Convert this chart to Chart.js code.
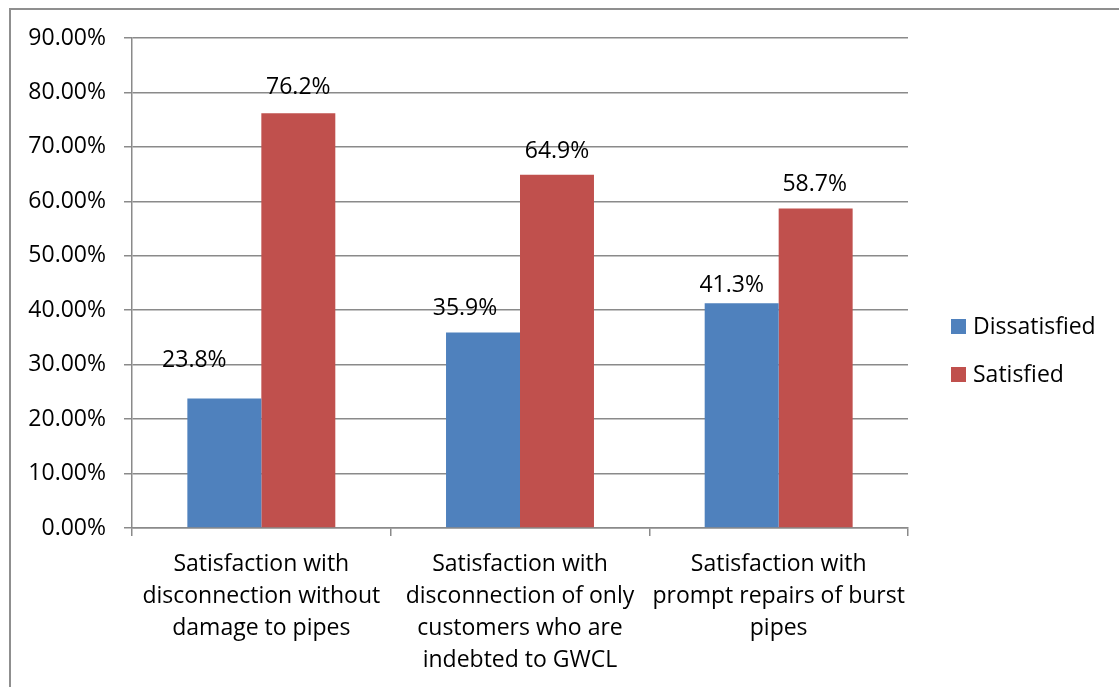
<!DOCTYPE html>
<html>
<head>
<meta charset="utf-8">
<script src="https://cdn.jsdelivr.net/npm/chart.js@4/dist/chart.umd.min.js"></script>
<style>
  html, body { margin: 0; padding: 0; background: #fff; overflow: hidden; }
  #wrap { position: relative; width: 1119px; height: 687px; }
  #chart { position: absolute; left: 0; top: 0; }
  #frame {
    position: absolute; left: 9px; top: 8px; width: 1200px; height: 800px;
    border-left: 2px solid #8f8f8f; border-top: 2px solid #8f8f8f;
    pointer-events: none;
  }
</style>
</head>
<body>
<div id="wrap">
  <canvas id="chart" width="1119" height="687"></canvas>
  <div id="frame"></div>
</div>
<script>
// 설문 항목 (x축 카테고리)
const categories = [
  ["Satisfaction with", "disconnection without", "damage to pipes"],
  ["Satisfaction with", "disconnection of only", "customers who are", "indebted to GWCL"],
  ["Satisfaction with", "prompt repairs of burst", "pipes"],
];
const seriesNames = ["Dissatisfied", "Satisfied"];
const dissatisfied = [23.8, 35.9, 41.3];
const satisfied = [76.2, 64.9, 58.7];
const yTicks = [0, 10, 20, 30, 40, 50, 60, 70, 80, 90];

const colors = ["#4f81bd", "#c0504d"];
const FONT = "'Open Sans', sans-serif";
const GRID = "#8a8a8a";

// 값 라벨 위치 미세조정 [dx, 막대 끝에서 baseline 까지 dy]
const labelNudge = [
  [[-30, -31], [-18, -18], [-10, -11]],
  [[0, -19], [0, -17], [-1, -17]],
];

const valueLabels = {
  id: "valueLabels",
  afterDatasetsDraw(chart) {
    const ctx = chart.ctx;
    ctx.save();
    ctx.font = "23px " + FONT;
    ctx.fillStyle = "#000";
    ctx.textAlign = "center";
    ctx.textBaseline = "alphabetic";
    chart.data.datasets.forEach((ds, di) => {
      chart.getDatasetMeta(di).data.forEach((bar, i) => {
        const [dx, dy] = labelNudge[di][i];
        ctx.fillText(ds.data[i].toFixed(1) + "%", bar.x + dx, bar.y + dy);
      });
    });
    ctx.restore();
  },
};

// 오른쪽 범례 (네모 + 이름)
const sideLegend = {
  id: "sideLegend",
  afterDraw(chart) {
    const ctx = chart.ctx;
    const x = chart.chartArea.right + 43;
    ctx.save();
    ctx.font = "23px " + FONT;
    ctx.textBaseline = "alphabetic";
    ctx.textAlign = "left";
    chart.data.datasets.forEach((ds, i) => {
      const top = 319 + i * 48;
      ctx.fillStyle = ds.backgroundColor;
      ctx.fillRect(x, top, 15, 15);
      ctx.fillStyle = "#000";
      ctx.fillText(ds.label, x + 22, top + 15);
    });
    ctx.restore();
  },
};

new Chart(document.getElementById("chart"), {
  type: "bar",
  data: {
    labels: categories,
    datasets: [
      { label: seriesNames[0], data: dissatisfied, backgroundColor: colors[0] },
      { label: seriesNames[1], data: satisfied, backgroundColor: colors[1] },
    ],
  },
  options: {
    responsive: false,
    animation: false,
    devicePixelRatio: 1,
    layout: { padding: { top: 38, right: 211, left: 0, bottom: 0 } },
    datasets: { bar: { barPercentage: 1, categoryPercentage: 0.572 } },
    plugins: {
      legend: { display: false },
      tooltip: { enabled: false },
    },
    scales: {
      x: {
        offset: true,
        grid: {
          offset: true,
          drawOnChartArea: false,
          drawTicks: true,
          tickLength: 8,
          color: GRID,
          lineWidth: 1.5,
        },
        border: { color: GRID, width: 1.5 },
        ticks: {
          color: "#000",
          font: { family: FONT, size: 23, lineHeight: 1.4 },
          padding: 12,
          maxRotation: 0,
          autoSkip: false,
        },
        afterFit(scale) {
          scale.height = 159;
        },
      },
      y: {
        min: 0,
        max: 90,
        afterBuildTicks(scale) {
          scale.ticks = yTicks.map((v) => ({ value: v }));
        },
        grid: { color: GRID, lineWidth: 1.5, tickLength: 8 },
        border: { color: GRID, width: 1.5 },
        ticks: {
          color: "#000",
          font: { family: FONT, size: 23 },
          padding: 18,
          callback: (v) => v.toFixed(2) + "%",
        },
        afterFit(scale) {
          scale.width = 132;
        },
      },
    },
  },
  plugins: [valueLabels, sideLegend],
});
</script>
</body>
</html>
